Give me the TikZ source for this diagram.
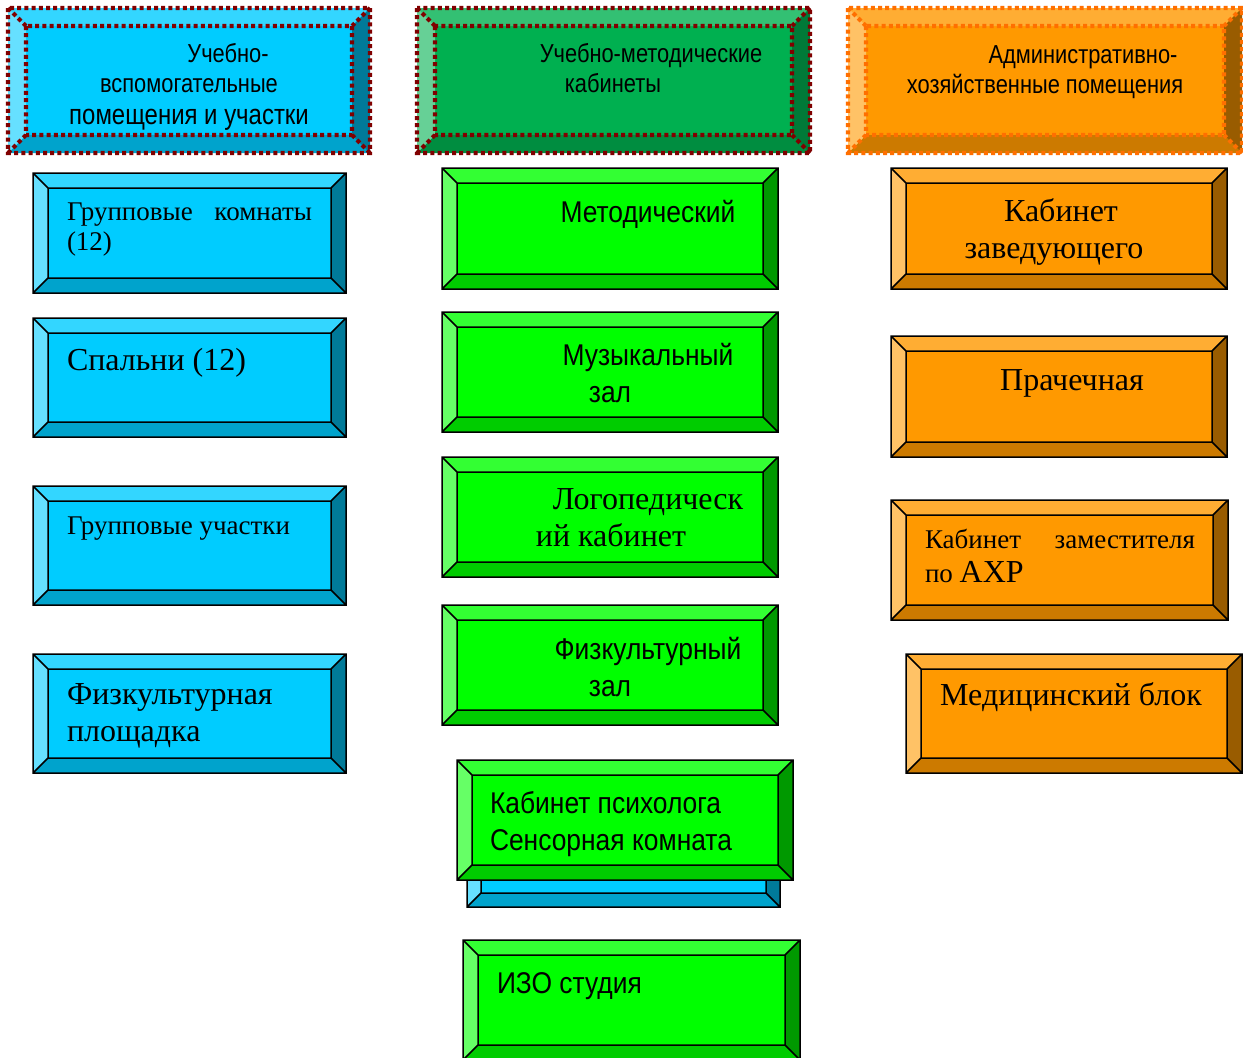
\documentclass[tikz,border=0pt]{standalone}
\usepackage{fontspec}
\setmainfont{Liberation Serif}
\newfontfamily\narrowsans[FakeStretch=0.84]{Liberation Sans}
\newfontfamily\boxsans[FakeStretch=0.88]{Liberation Sans}
% palettes
\definecolor{cyface}{HTML}{00CCFF}\definecolor{cytop}{HTML}{33D6FF}\definecolor{cylft}{HTML}{66E0FF}\definecolor{cyrgt}{HTML}{007A99}\definecolor{cybot}{HTML}{00A3CC}
\definecolor{grface}{HTML}{00FF00}\definecolor{grtop}{HTML}{33FF33}\definecolor{grlft}{HTML}{66FF66}\definecolor{grrgt}{HTML}{009900}\definecolor{grbot}{HTML}{00CC00}
\definecolor{dgface}{HTML}{00B050}\definecolor{dgtop}{HTML}{33C073}\definecolor{dglft}{HTML}{66D096}\definecolor{dgrgt}{HTML}{007A38}\definecolor{dgbot}{HTML}{008D40}
\definecolor{orface}{HTML}{FF9900}\definecolor{ortop}{HTML}{FFAD33}\definecolor{orlft}{HTML}{FFC266}\definecolor{orrgt}{HTML}{995C00}\definecolor{orbot}{HTML}{CC7A00}
\definecolor{dotred}{HTML}{800000}\definecolor{dotorange}{HTML}{FF6F00}
\newcommand\bevbox[8]{%
 \fill[#6face] (#1,#2) rectangle (#3,#4);
 \fill[#6top] (#1,#2) -- (#3,#2) -- ({#3-#5},{#2+#5}) -- ({#1+#5},{#2+#5}) -- cycle;
 \fill[#6bot] (#1,#4) -- (#3,#4) -- ({#3-#5},{#4-#5}) -- ({#1+#5},{#4-#5}) -- cycle;
 \fill[#6lft] (#1,#2) -- ({#1+#5},{#2+#5}) -- ({#1+#5},{#4-#5}) -- (#1,#4) -- cycle;
 \fill[#6rgt] (#3,#2) -- ({#3-#5},{#2+#5}) -- ({#3-#5},{#4-#5}) -- (#3,#4) -- cycle;
 \draw[#7] (#1,#2) rectangle (#3,#4) ({#1+#5},{#2+#5}) rectangle ({#3-#5},{#4-#5})
   (#1,#2) -- ({#1+#5},{#2+#5}) (#3,#2) -- ({#3-#5},{#2+#5})
   (#1,#4) -- ({#1+#5},{#4-#5}) (#3,#4) -- ({#3-#5},{#4-#5});
 \coordinate (#8) at ({(#1+#3)/2},{(#2+#4)/2});
}
\tikzset{
  bevline/.style={black, line width=1.5pt, line join=miter},
  hdrred/.style={dotred, line width=4.2pt, dash pattern=on 4pt off 3.2pt},
  hdrorange/.style={dotorange, line width=4.2pt, dash pattern=on 4pt off 3.2pt},
  txt/.style={inner sep=0pt, outer sep=0pt, text=black},
  serL/.style={txt, font=\fontsize{32}{37}\selectfont},
  serS/.style={txt, font=\fontsize{27}{31}\selectfont},
  sanL/.style={txt, font=\boxsans\fontsize{30}{37}\selectfont},
  sanH/.style={txt, font=\narrowsans\fontsize{26}{31}\selectfont},
}
\begin{document}
\begin{tikzpicture}[x=1pt,y=-1pt]
\useasboundingbox (0,0) rectangle (1243,1058);
\fill[white] (0,0) rectangle (1243,1058);
% headers
\bevbox{8}{8}{370}{153}{18}{cy}{hdrred}{h1}
\bevbox{417}{8}{810}{153}{18}{dg}{hdrred}{h2}
\bevbox{848}{8}{1242}{153}{18}{or}{hdrorange}{h3}
\node[sanH, anchor=base] (h1a) at (228,62) {Учебно-};
\node[sanH, anchor=base] (h1b) at (189,92) {вспомогательные};
\node[sanH, anchor=base, font=\narrowsans\fontsize{28.5}{33}\selectfont] (h1c) at (189,124) {помещения и участки};
\node[sanH, anchor=base] (h2a) at (651,62) {Учебно-методические};
\node[sanH, anchor=base] (h2b) at (613,92) {кабинеты};
\node[sanH, anchor=base] (h3a) at (1083,63) {Административно-};
\node[sanH, anchor=base] (h3b) at (1045,93) {хозяйственные помещения};
% left column
\bevbox{33}{173}{346}{293}{15}{cy}{bevline}{b1}
\bevbox{33}{318}{346}{437}{15}{cy}{bevline}{b2}
\bevbox{33}{486}{346}{605}{15}{cy}{bevline}{b3}
\bevbox{33}{654}{346}{773}{15}{cy}{bevline}{b4}
\node[serS, anchor=base west] (b1a) at (67,220) {\makebox[245pt][s]{Групповые комнаты}};
\node[serS, anchor=base west] (b1b) at (67,250) {(12)};
\node[serL, anchor=base west] (b2a) at (67,370) {Спальни (12)};
\node[serS, anchor=base west] (b3a) at (67,534) {Групповые участки};
\node[serL, anchor=base west] (b4a) at (67,704) {Физкультурная};
\node[serL, anchor=base west] (b4b) at (67,741) {площадка};
% middle column
\bevbox{442}{168}{778}{289}{15}{gr}{bevline}{m1}
\bevbox{442}{312}{778}{432}{15}{gr}{bevline}{m2}
\bevbox{442}{457}{778}{577}{15}{gr}{bevline}{m3}
\bevbox{442}{605}{778}{725}{15}{gr}{bevline}{m4}
\bevbox{467}{787}{780}{907}{14}{cy}{bevline}{m5b}
\bevbox{457}{760}{793}{880}{15}{gr}{bevline}{m5}
\bevbox{463}{940}{800}{1060}{15}{gr}{bevline}{m6}
\node[sanL, anchor=base] (m1a) at (648,222) {Методический};
\node[sanL, anchor=base] (m2a) at (648,365) {Музыкальный};
\node[sanL, anchor=base] (m2b) at (610,402) {зал};
\node[serL, anchor=base] (m3a) at (648,509) {Логопедическ};
\node[serL, anchor=base] (m3b) at (611,546) {ий кабинет};
\node[sanL, anchor=base] (m4a) at (648,659) {Физкультурный};
\node[sanL, anchor=base] (m4b) at (610,696) {зал};
\node[sanL, anchor=base west] (m5a) at (490,813) {Кабинет психолога};
\node[sanL, anchor=base west] (m5c) at (490,850) {Сенсорная комната};
\node[sanL, anchor=base west] (m6a) at (497,993) {ИЗО студия};
% right column
\bevbox{891}{168}{1227}{289}{15}{or}{bevline}{r1}
\bevbox{891}{336}{1227}{457}{15}{or}{bevline}{r2}
\bevbox{891}{500}{1228}{620}{15}{or}{bevline}{r3}
\bevbox{906}{654}{1242}{773}{15}{or}{bevline}{r4}
\node[serL, anchor=base] (r1a) at (1061,221) {Кабинет};
\node[serL, anchor=base] (r1b) at (1054,258) {заведующего};
\node[serL, anchor=base] (r2a) at (1072,390) {Прачечная};
\node[serS, anchor=base west] (r3a) at (925,548) {\makebox[270pt][s]{Кабинет заместителя}};
\node[serS, anchor=base west] (r3b) at (925,582) {по {\fontsize{32}{37}\selectfont АХР}};
\node[serL, anchor=base] (r4a) at (1071,705) {Медицинский блок};
\end{tikzpicture}
\end{document}
